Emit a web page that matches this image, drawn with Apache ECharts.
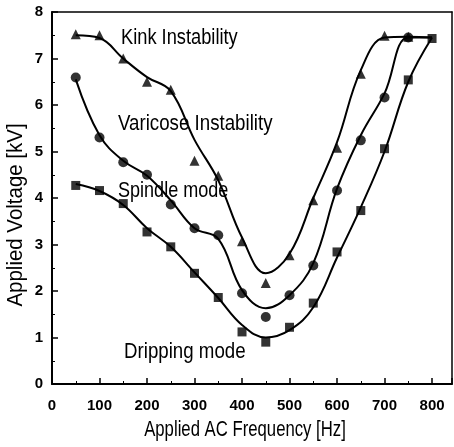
<!DOCTYPE html>
<html>
<head>
<meta charset="utf-8">
<script src="https://cdn.jsdelivr.net/npm/echarts@6/dist/echarts.min.js"></script>
<style>
  html, body { margin: 0; padding: 0; background: #fff; }
  #chart { width: 454px; height: 447px; }
</style>
</head>
<body>
<div id="chart"></div>
<script>
// measured points, frequency in Hz, voltage in kV
const freq = [50, 100, 150, 200, 250, 300, 350, 400, 450, 500, 550, 600, 650, 700, 750, 800];
const kinkPts = [7.52, 7.5, 7.0, 6.5, 6.33, 4.8, 4.48, 3.07, 2.17, 2.77, 3.95, 5.08, 6.67, 7.49, 7.47];
const varicosePts = [6.59, 5.3, 4.77, 4.5, 3.86, 3.35, 3.2, 1.95, 1.44, 1.91, 2.55, 4.16, 5.24, 6.16, 7.45];
const drippingPts = [4.27, 4.16, 3.88, 3.27, 2.95, 2.38, 1.86, 1.12, 0.9, 1.22, 1.74, 2.84, 3.73, 5.06, 6.54, 7.43];

// boundary curves (same frequencies)
const kinkFit = [7.5, 7.44, 7.0, 6.6, 6.3, 5.25, 4.38, 3.15, 2.38, 2.8, 4.0, 5.2, 6.75, 7.45, 7.47, 7.45];
const varicoseFit = [6.55, 5.35, 4.8, 4.48, 3.95, 3.35, 3.12, 2.02, 1.63, 1.91, 2.6, 4.2, 5.35, 6.25, 7.45, 7.45];
const drippingFit = [4.3, 4.15, 3.85, 3.35, 2.95, 2.4, 1.85, 1.27, 1.0, 1.16, 1.65, 2.72, 3.8, 5.0, 6.5, 7.45];

const FONT = "'Liberation Sans', Arial, sans-serif";

const chart = echarts.init(document.getElementById('chart'));

function pairs(vals) {
  return vals.map((v, i) => [freq[i], v]);
}

function fitLine(vals) {
  return {
    type: 'line',
    data: pairs(vals),
    smooth: 0.4,
    showSymbol: false,
    silent: true,
    lineStyle: { color: '#000', width: 2 },
    z: 2
  };
}

function points(vals, symbol, size) {
  return {
    type: 'scatter',
    data: pairs(vals),
    symbol: symbol,
    symbolSize: size,
    itemStyle: { color: '#000' },
    z: 3
  };
}

// condensed-looking text (the original uses a narrow face)
function note(text, x, y, size, sx, extra) {
  return Object.assign({
    type: 'text',
    x: x,
    y: y,
    scaleX: sx,
    silent: true,
    style: {
      text: text,
      font: size + 'px ' + FONT,
      fill: '#000',
      textAlign: 'left',
      textVerticalAlign: 'middle'
    }
  }, extra || {});
}

const option = {
  backgroundColor: '#fff',
  animation: false,
  grid: { left: 52, top: 12, right: 2, bottom: 63 },
  xAxis: [{
    type: 'value',
    min: 0,
    max: 842,
    interval: 100,
    axisLine: { lineStyle: { color: '#000', width: 2 } },
    axisTick: { inside: true, length: 6, lineStyle: { color: '#000', width: 1.5 } },
    minorTick: { show: true, splitNumber: 2, length: 3, lineStyle: { color: '#000' } },
    splitLine: { show: false },
    axisLabel: {
      margin: 14, fontFamily: FONT, fontSize: 15, fontWeight: 'bold', color: '#000',
      showMaxLabel: false
    }
  }, {
    type: 'value', position: 'top', min: 0, max: 842,
    axisLine: { show: true, onZero: false, lineStyle: { color: '#000', width: 1.5 } },
    axisTick: { show: false }, axisLabel: { show: false }, splitLine: { show: false }
  }],
  yAxis: [{
    type: 'value',
    min: 0,
    max: 8,
    interval: 1,
    axisLine: { show: true, lineStyle: { color: '#000', width: 2 } },
    axisTick: { inside: true, length: 6, lineStyle: { color: '#000', width: 1.5 } },
    minorTick: { show: true, splitNumber: 2, length: 3, lineStyle: { color: '#000' } },
    splitLine: { show: false },
    axisLabel: { margin: 9, fontFamily: FONT, fontSize: 15, fontWeight: 'bold', color: '#000' }
  }, {
    type: 'value', position: 'right', min: 0, max: 8,
    axisLine: { show: true, onZero: false, lineStyle: { color: '#000', width: 1.5 } },
    axisTick: { show: false }, axisLabel: { show: false }, splitLine: { show: false }
  }],
  graphic: [
    note('Kink Instability', 121, 38, 22, 0.83),
    note('Varicose Instability', 118, 124, 22, 0.85),
    note('Spindle mode', 118, 191, 22, 0.82),
    note('Dripping mode', 124, 352, 22, 0.85),
    // axis titles
    {
      type: 'text', x: 245, y: 430, scaleX: 0.76, silent: true,
      style: { text: 'Applied AC Frequency [Hz]', font: '22px ' + FONT, fill: '#000',
               textAlign: 'center', textVerticalAlign: 'middle' }
    },
    {
      type: 'text', x: 16, y: 215, rotation: Math.PI / 2, scaleX: 0.93, silent: true,
      style: { text: 'Applied Voltage [kV]', font: '22px ' + FONT, fill: '#000',
               textAlign: 'center', textVerticalAlign: 'middle' }
    }
  ],
  series: [
    fitLine(kinkFit),
    fitLine(varicoseFit),
    fitLine(drippingFit),
    points(kinkPts, 'triangle', 10),
    points(varicosePts, 'circle', 10),
    points(drippingPts, 'rect', 9)
  ]
};

chart.setOption(option);
</script>
</body>
</html>
